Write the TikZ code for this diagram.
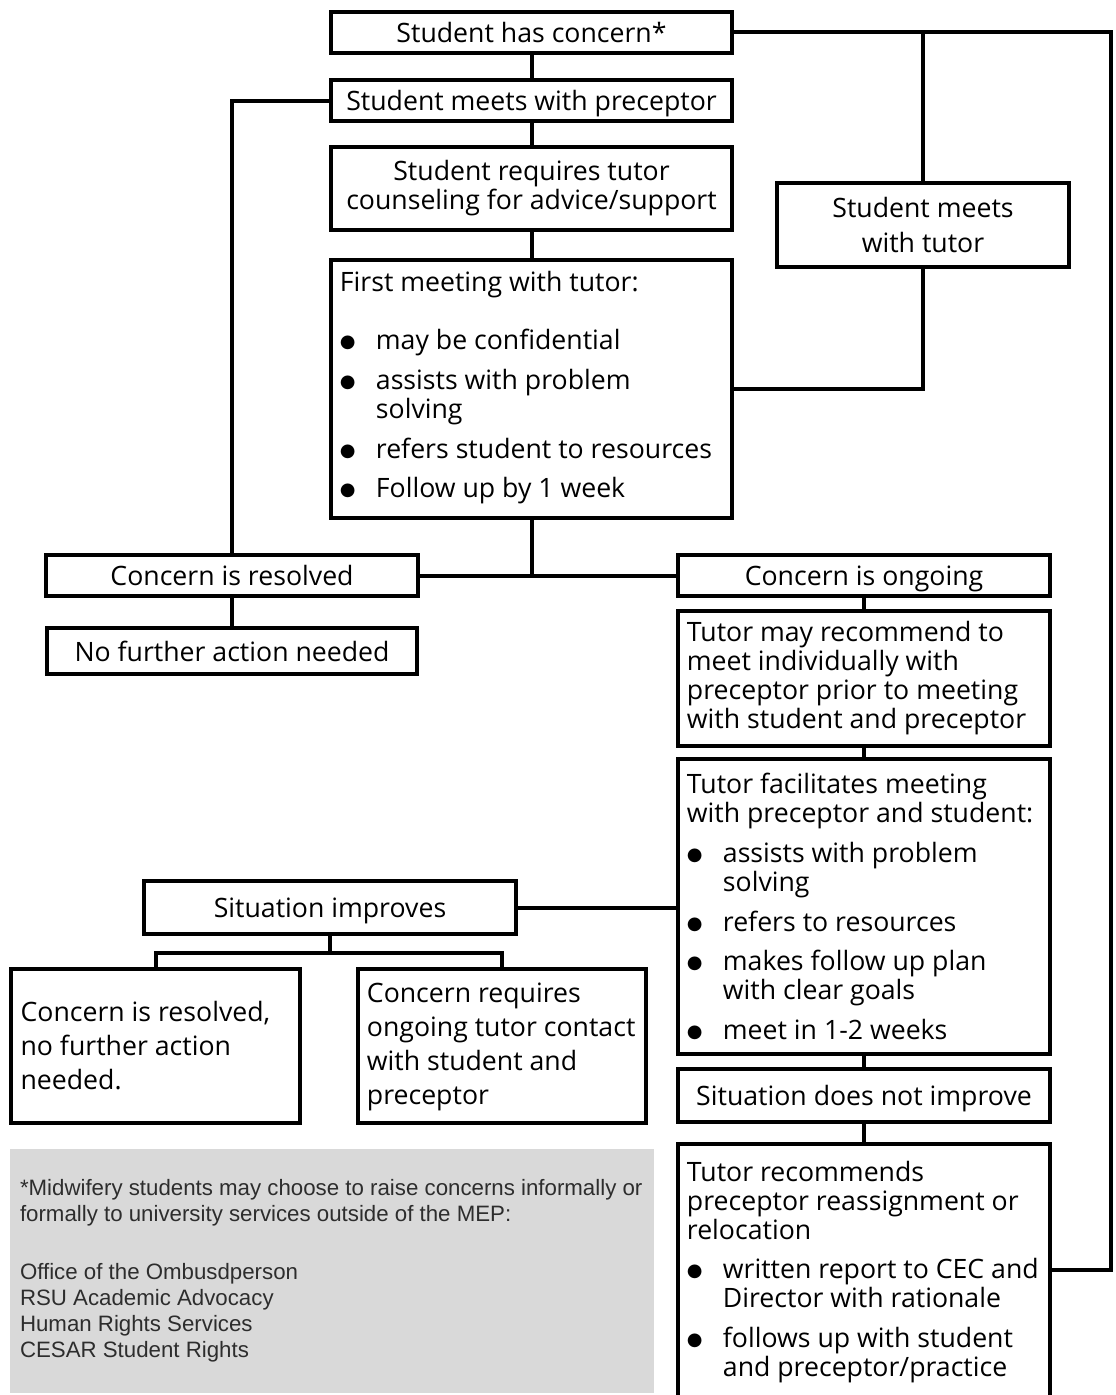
\documentclass[tikz,border=0pt]{standalone}
\usepackage{fontspec}
\setmainfont{Open Sans}
\newfontfamily\greyfont{Liberation Sans}
\newfontfamily\bulfont{DejaVu Sans}
\newcommand{\mainfs}{\fontsize{20}{21.75}\selectfont}
\newcommand{\bul}{\makebox[27pt][l]{\raisebox{1.5pt}{\bulfont\fontsize{13.5}{13.5}\selectfont ●}}}
\newcommand{\hang}{\hspace*{27pt}}
\definecolor{greybg}{RGB}{217,217,217}
\definecolor{greytxt}{RGB}{45,45,45}
\begin{document}
\begin{tikzpicture}[x=0.75pt,y=-0.75pt,
  box/.style={draw, line width=3pt, inner sep=0pt, align=center, font=\mainfs},
  one/.style={text height=17pt, text depth=2pt},
  txt/.style={inner sep=0pt, align=left, anchor=west, font=\mainfs},
  conn/.style={line width=3pt}]
\useasboundingbox (0,0) rectangle (1116,1395);
\clip (0,0) rectangle (1116,1395);

% grey footnote box
\node[fill=greybg, inner sep=0pt, minimum width=483pt, minimum height=183pt] (grey) at (332,1271) {};
\node[inner sep=0pt, align=left, anchor=west, text=greytxt,
  font=\greyfont\fontsize{16.7}{19.5}\selectfont] (greyt) at ([xshift=7.5pt]grey.west)
  {*Midwifery students may choose to raise concerns informally or\\
   formally to university services outside of the MEP:\\[24pt]
   Office of the Ombusdperson\\
   RSU Academic Advocacy\\
   Human Rights Services\\
   CESAR Student Rights};

% boxes
\node[box, one, minimum width=300.75pt, minimum height=30.75pt] (b1) at (531.5,32.5) {Student has concern*};
\node[box, one, minimum width=300.75pt, minimum height=30.75pt] (b2) at (531.5,100.5) {Student meets with preceptor};
\node[box, minimum width=300.75pt, minimum height=62.25pt] (b3) at (531.5,188.5) {Student requires tutor\\counseling for advice/support};
\node[box, minimum width=300.75pt, minimum height=193.5pt] (b4) at (531.5,389) {};
\node[box, minimum width=219pt, minimum height=63pt, font=\fontsize{20}{26}\selectfont] (b5) at (923,225) {Student meets\\with tutor};
\node[box, one, minimum width=279pt, minimum height=30.75pt] (b6) at (232,575.5) {Concern is resolved};
\node[box, one, minimum width=277.5pt, minimum height=34.5pt] (b7) at (232,651) {No further action needed};
\node[box, one, minimum width=279pt, minimum height=30.75pt] (b8) at (864,575.5) {Concern is ongoing};
\node[box, minimum width=279pt, minimum height=101.25pt] (b9) at (864,678.5) {};
\node[box, minimum width=279pt, minimum height=221.25pt] (b10) at (864,906.5) {};
\node[box, one, minimum width=279pt, minimum height=39.75pt] (b11) at (330,907.5) {Situation improves};
\node[box, minimum width=216.75pt, minimum height=115.5pt] (b12) at (155.5,1046) {};
\node[box, minimum width=216pt, minimum height=115.5pt] (b13) at (502,1046) {};
\node[box, one, minimum width=279pt, minimum height=39.75pt] (b14) at (864,1095.5) {Situation does not improve};
\node[box, minimum width=279pt, minimum height=240pt, anchor=north] (b15) at (864,1142) {};

% texts of left-aligned boxes
\node[txt] (t4) at ([xshift=8pt,yshift=1pt]b4.west)
  {First meeting with tutor:\\[22pt]
   \bul may be confidential\\[8pt]
   \bul assists with problem\\
   \hang solving\\[8pt]
   \bul refers student to resources\\[8pt]
   \bul Follow up by 1 week};
\node[txt] (t9) at ([xshift=8pt]b9.west)
  {Tutor may recommend to\\
   meet individually with\\
   preceptor prior to meeting\\
   with student and preceptor};
\node[txt] (t10) at ([xshift=8pt]b10.west)
  {Tutor facilitates meeting\\
   with preceptor and student:\\[8pt]
   \bul assists with problem\\
   \hang solving\\[8pt]
   \bul refers to resources\\[8pt]
   \bul makes follow up plan\\
   \hang with clear goals\\[8pt]
   \bul meet in 1-2 weeks};
\node[txt, font=\fontsize{20}{25.5}\selectfont] (t12) at ([xshift=8.5pt]b12.west)
  {Concern is resolved,\\
   no further action\\
   needed.};
\node[txt, font=\fontsize{20}{25.5}\selectfont] (t13) at ([xshift=8pt,yshift=-1pt]b13.west)
  {Concern requires\\
   ongoing tutor contact\\
   with student and\\
   preceptor};
\node[txt, anchor=north west] (t15) at ([xshift=8pt,yshift=-14pt]b15.north west)
  {Tutor recommends\\
   preceptor reassignment or\\
   relocation\\[8pt]
   \bul written report to CEC and\\
   \hang Director with rationale\\[8pt]
   \bul follows up with student\\
   \hang and preceptor/practice};

% connectors
\coordinate (rt) at (1111,32.5);
\coordinate (rb) at (1111,1270);
\coordinate (sj) at (330,953);
\draw[conn] (b1.east) -- (rt) -- (rb) -- (rb -| b15.east);
\draw[conn] (b5.north) -- (b5.north |- b1.east);
\draw[conn] (b5.south) |- (b4.east);
\draw[conn] (b1.south) -- (b2.north);
\draw[conn] (b2.south) -- (b3.north);
\draw[conn] (b3.south) -- (b4.north);
\draw[conn] (b2.west) -| (b6.north);
\draw[conn] (b4.south) -- (b4.south |- b6.east);
\draw[conn] (b6.east) -- (b8.west);
\draw[conn] (b6.south) -- (b7.north);
\draw[conn] (b8.south) -- (b9.north);
\draw[conn] (b9.south) -- (b10.north);
\draw[conn] (b10.south) -- (b14.north);
\draw[conn] (b14.south) -- (b15.north);
\draw[conn] (b11.east) -- (b11.east -| b10.west);
\draw[conn] (b11.south) -- (sj);
\draw[conn] (b12.north) |- (sj) -| (b13.north);
\end{tikzpicture}
\end{document}
